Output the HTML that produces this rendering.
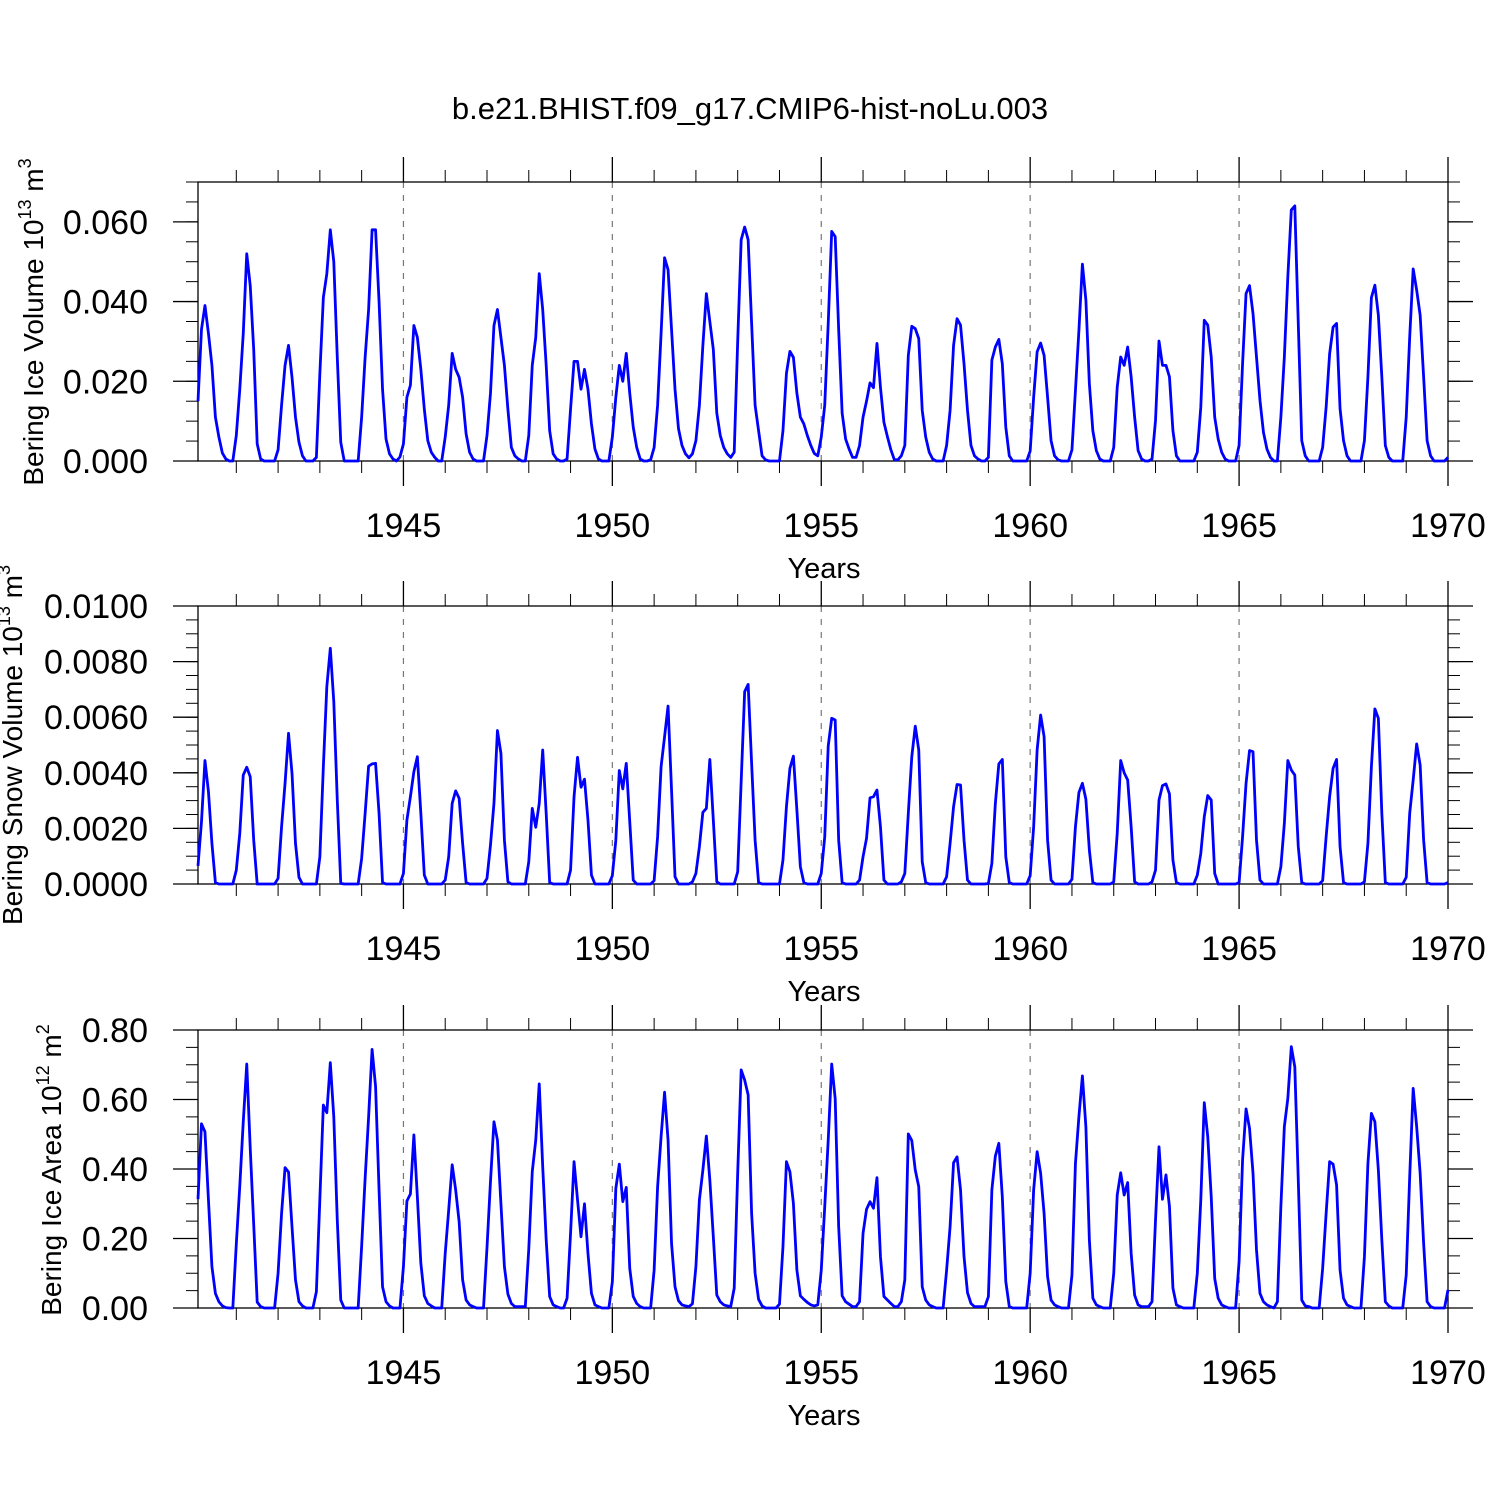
<!DOCTYPE html>
<html><head><meta charset="utf-8"><title>Bering</title>
<style>html,body{margin:0;padding:0;background:#fff;}svg{display:block;}text{font-family:"Liberation Sans",Arial,sans-serif;fill:#000;}</style>
</head><body>
<svg id="fig" width="1500" height="1500" viewBox="0 0 1500 1500" xmlns="http://www.w3.org/2000/svg">
<rect width="1500" height="1500" fill="#fff"/>
<text x="750" y="119" font-size="31" text-anchor="middle">b.e21.BHIST.f09_g17.CMIP6-hist-noLu.003</text>
</svg>
<script>
// Monthly values, Jan 1940 .. Dec 1969
const iceVolume = [
.015,.033,.039,.032,.024,.011,.006,.002,.0005,0,0,.0064,
.018,.032,.052,.044,.028,.0043,.0005,0,0,0,0,.0028,
.014,.024,.029,.021,.011,.0047,.0013,0,0,0,.0009,.022,
.041,.047,.058,.050,.026,.0047,0,0,0,0,0,.011,
.026,.038,.058,.058,.040,.018,.0055,.0018,.0005,0,.001,.0043,
.016,.019,.034,.031,.023,.013,.0051,.0022,.0009,0,0,.006,
.014,.027,.023,.021,.016,.0068,.0022,.0005,0,0,0,.0064,
.017,.034,.038,.031,.024,.013,.0034,.0013,.0005,0,0,.0064,
.024,.031,.047,.038,.024,.0076,.0018,.0005,0,0,.0005,.013,
.025,.025,.018,.023,.018,.0093,.003,.0005,0,0,0,.006,
.016,.024,.020,.027,.017,.0085,.0034,.0005,0,0,.0003,.0034,
.014,.032,.051,.048,.033,.018,.0081,.0039,.0018,.0008,.0018,.0051,
.014,.029,.042,.035,.028,.012,.0064,.0034,.0018,.0009,.0022,.030,
.0555,.0587,.0555,.0345,.014,.0076,.0013,.0003,0,0,0,0,
.0076,.022,.0275,.026,.017,.011,.0093,.0064,.0039,.0019,.0013,.006,
.014,.0345,.0576,.0563,.033,.012,.0055,.003,.0009,.0009,.0039,.011,
.015,.0196,.0184,.0295,.0185,.0097,.0061,.0028,.0003,.0003,.0013,.0039,
.0265,.0338,.0332,.0307,.0127,.006,.0022,.0005,0,0,0,.0039,
.0127,.029,.0357,.0341,.0244,.0127,.0039,.0013,.0005,0,0,.0009,
.0253,.0286,.0305,.0244,.0085,.0013,0,0,0,0,0,.0025,
.016,.0274,.0296,.0265,.016,.0051,.0013,.0003,0,0,0,.0028,
.0177,.0328,.0494,.0404,.0194,.0076,.0026,.0005,0,0,0,.0034,
.0185,.0261,.024,.0286,.0211,.011,.0026,.0005,0,0,.0005,.0102,
.0301,.024,.024,.0211,.0076,.0013,0,0,0,0,0,.0022,
.0135,.0353,.0341,.0261,.011,.0055,.0022,.0005,0,0,0,.0039,
.0244,.042,.044,.037,.0261,.0152,.0072,.003,.0009,0,0,.011,
.0261,.0462,.063,.064,.0345,.0051,.0013,0,0,0,0,.0034,
.0135,.0269,.0336,.0345,.0131,.0051,.0013,0,0,0,0,.0051,
.0211,.041,.0441,.0366,.0211,.0039,.0009,0,0,0,0,.011,
.0311,.0482,.0429,.0366,.0211,.0051,.0013,0,0,0,0,.0009];
const snowVolume = [
.00065,.00224,.00444,.00332,.00146,.00005,0,0,0,0,0,.0005,
.00182,.00392,.0042,.00386,.00158,0,0,0,0,0,0,.0002,
.00206,.00362,.00542,.00398,.00146,.00024,0,0,0,0,0,.00098,
.00422,.0071,.00848,.00656,.00302,.00002,0,0,0,0,0,.00092,
.00254,.00424,.00432,.00434,.00254,.00005,0,0,0,0,0,.00038,
.0023,.00314,.00404,.00458,.00254,.00032,0,0,0,0,0,.00014,
.00098,.0029,.00335,.00308,.00146,.00005,0,0,0,0,0,.0002,
.0014,.0029,.00552,.0047,.00158,.00008,0,0,0,0,0,.0008,
.00272,.00204,.0029,.00482,.00254,.00005,0,0,0,0,0,.0005,
.00314,.00456,.00348,.00377,.0023,.00032,0,0,0,0,0,.0003,
.00158,.00408,.00342,.00434,.00224,.00014,0,0,0,0,0,.00012,
.0017,.00422,.0053,.0064,.00338,.00026,0,0,0,0,.00008,.00038,
.00134,.00258,.00272,.00448,.0023,.00008,0,0,0,0,0,.00044,
.0037,.00692,.00718,.00434,.00158,.00005,0,0,0,0,0,0,
.00086,.00278,.00416,.0046,.00266,.00062,.00005,0,0,0,0,.00038,
.0017,.00496,.00596,.0059,.00158,.00005,0,0,0,0,.00014,.00098,
.00164,.0031,.00314,.00338,.00206,.00014,0,0,0,0,.00008,.00038,
.00254,.00458,.00568,.00482,.0008,.00005,0,0,0,0,0,.00026,
.00146,.00278,.00358,.00356,.00158,.00014,0,0,0,0,0,.00002,
.00074,.0029,.00432,.00448,.00098,.00005,0,0,0,0,0,.0003,
.00206,.00482,.00608,.0053,.00158,.00014,0,0,0,0,0,.00017,
.00206,.00329,.00362,.00305,.00122,.00005,0,0,0,0,0,.00008,
.00182,.00444,.004,.00374,.00206,.00008,0,0,0,0,.00008,.0005,
.00302,.00354,.0036,.00324,.00086,.00005,0,0,0,0,0,.00032,
.0011,.00242,.00318,.00302,.00038,0,0,0,0,0,0,.00005,
.0017,.00362,.0048,.00476,.00158,.00014,0,0,0,0,0,.00062,
.00218,.00444,.0041,.00392,.00134,.00005,0,0,0,0,0,.00012,
.0017,.00314,.00416,.00448,.00134,.00005,0,0,0,0,0,.00008,
.00146,.00422,.0063,.00596,.00254,.00005,0,0,0,0,0,.00024,
.00254,.00374,.00504,.00428,.00158,.00005,0,0,0,0,0,.00005];
const iceArea = [
.313,.53,.507,.311,.119,.042,.018,.006,.001,0,0,.184,
.351,.536,.702,.46,.24,.017,.004,0,0,0,0,.1,
.272,.404,.391,.234,.081,.018,.006,0,0,0,.047,.315,
.584,.562,.706,.55,.253,.023,0,0,0,0,0,.178,
.373,.55,.744,.637,.34,.061,.018,.006,0,0,0,.119,
.308,.328,.498,.32,.129,.035,.013,.006,0,0,0,.157,
.282,.412,.34,.248,.081,.023,.009,.004,0,0,0,.174,
.364,.536,.483,.301,.119,.04,.013,.004,.004,.004,.004,.17,
.392,.483,.645,.407,.196,.033,.009,.004,0,0,.028,.215,
.421,.311,.205,.3,.157,.042,.009,.004,0,0,0,.075,
.344,.414,.306,.347,.114,.033,.013,.004,0,0,0,.109,
.349,.493,.621,.483,.186,.061,.021,.009,.006,.004,.012,.119,
.311,.397,.495,.368,.205,.037,.018,.009,.006,.004,.057,.388,
.685,.656,.613,.272,.1,.025,.006,0,0,0,0,.011,
.176,.421,.392,.301,.109,.035,.025,.016,.009,.006,.009,.109,
.292,.483,.702,.603,.234,.035,.018,.011,.004,.004,.018,.215,
.284,.306,.287,.375,.148,.033,.023,.013,.004,.004,.018,.081,
.501,.482,.397,.349,.061,.023,.009,.004,0,0,0,.109,
.234,.418,.435,.34,.148,.044,.013,.004,.004,.004,.004,.033,
.34,.437,.474,.32,.076,.004,0,0,0,0,0,.1,
.34,.45,.388,.272,.09,.023,.009,.004,0,0,0,.095,
.416,.551,.668,.522,.196,.028,.009,.004,0,0,0,.1,
.325,.389,.325,.361,.157,.037,.009,.004,.004,.004,.018,.253,
.464,.313,.383,.292,.057,.009,.004,0,0,0,0,.1,
.311,.591,.493,.32,.085,.028,.009,.004,0,0,0,.133,
.426,.573,.517,.388,.167,.042,.018,.009,.004,0,.018,.292,
.522,.603,.752,.694,.368,.023,.006,.004,0,0,0,.114,
.272,.421,.414,.354,.109,.028,.009,.004,0,0,0,.148,
.416,.56,.536,.397,.196,.018,.006,0,0,0,0,.095,
.378,.632,.522,.388,.186,.018,.004,0,0,0,0,.052];

const xMajorYears = [1945,1950,1955,1960,1965,1970];
const xMajorLabels = ["1945","1950","1955","1960","1965","1970"];
const iceTicks = [0,0.02,0.04,0.06];
const iceTickLabels = ["0.000","0.020","0.040","0.060"];
const snowTicks = [0,0.002,0.004,0.006,0.008,0.01];
const snowTickLabels = ["0.0000","0.0020","0.0040","0.0060","0.0080","0.0100"];
const areaTicks = [0,0.2,0.4,0.6,0.8];
const areaTickLabels = ["0.00","0.20","0.40","0.60","0.80"];

const NS = "http://www.w3.org/2000/svg";
const svg = document.getElementById("fig");
const L = 198, R = 1448;
const N = 360;
function xIdx(i){ return L + i*(R-L)/(N-1); }
function xYear(y){ return L + (y-1940-1/12)*12*(R-L)/(N-1); }
function mk(tag, attrs, parent){
  const e = document.createElementNS(NS, tag);
  for (const k in attrs) e.setAttribute(k, attrs[k]);
  (parent||svg).appendChild(e);
  return e;
}

function panel(cfg){
  const g = mk("g", {});
  
  
  const T = cfg.top, B = cfg.bottom;
  const yS = v => B - (v - 0) / cfg.max * (B - T);
  xMajorYears.forEach(yr => {
    if (yr >= 1970) return;
    const gl = mk("line", {x1:xYear(yr), x2:xYear(yr), y1:T, y2:B, stroke:"#777", "stroke-width":1.2, "stroke-dasharray":"6,7"}, g);
    
    
  });
  for (let v = 0; v <= cfg.max + 1e-9; v += cfg.minor){
    const y = yS(v);
    mk("line", {x1:L-12, x2:L, y1:y, y2:y, stroke:"#000", "stroke-width":1}, g);
    mk("line", {x1:R, x2:R+12, y1:y, y2:y, stroke:"#000", "stroke-width":1}, g);
  }
  cfg.ticks.forEach((v, k) => {
    const y = yS(v);
    mk("line", {x1:L-25, x2:L, y1:y, y2:y, stroke:"#000", "stroke-width":1.3}, g);
    mk("line", {x1:R, x2:R+25, y1:y, y2:y, stroke:"#000", "stroke-width":1.3}, g);
    const t = mk("text", {x:148, y:y+12, "font-size":34, "text-anchor":"end"}, g);
    t.textContent = cfg.labels[k];
    
    
  });
  for (let yr = 1941; yr < 1970; yr++){
    if (yr % 5 === 0) continue;
    const x = xYear(yr);
    mk("line", {x1:x, x2:x, y1:T-12, y2:T, stroke:"#000", "stroke-width":1}, g);
    mk("line", {x1:x, x2:x, y1:B, y2:B+12, stroke:"#000", "stroke-width":1}, g);
  }
  xMajorYears.forEach((yr, k) => {
    const x = xYear(yr);
    mk("line", {x1:x, x2:x, y1:T-25, y2:T, stroke:"#000", "stroke-width":1.3}, g);
    mk("line", {x1:x, x2:x, y1:B, y2:B+25, stroke:"#000", "stroke-width":1.3}, g);
    const t = mk("text", {x:x, y:B+76, "font-size":34, "text-anchor":"middle"}, g);
    t.textContent = xMajorLabels[k];
    
    
  });
  const xt = mk("text", {x:824, y:B+117, "font-size":29, "text-anchor":"middle"}, g);
  xt.textContent = "Years";
  
  
  const yt = mk("text", {transform:"translate("+cfg.titleX+","+cfg.titleY+") rotate(-90)", "font-size":28, "text-anchor":"middle"}, g);
  yt.innerHTML = cfg.title;
  
  
  const fr = mk("rect", {x:L, y:T, width:R-L, height:B-T, fill:"none", stroke:"#000", "stroke-width":1.3}, g);
  
  
  const pts = cfg.data.map((v,i) => xIdx(i).toFixed(2) + "," + yS(v).toFixed(2)).join(" ");
  const pl = mk("polyline", {points:pts, fill:"none", stroke:"#0000ff", "stroke-width":2.8, "stroke-linejoin":"round"}, g);
  
  
}

panel({name:"ice-volume-panel", top:182, bottom:461, max:0.07, minor:0.005, ticks:iceTicks, labels:iceTickLabels, data:iceVolume,
  titleX:43, titleY:322, title:'Bering Ice Volume 10<tspan dy="-12" font-size="18">13</tspan><tspan dy="12"> m</tspan><tspan dy="-12" font-size="18">3</tspan>'});
panel({name:"snow-volume-panel", top:606, bottom:884, max:0.01, minor:0.0005, ticks:snowTicks, labels:snowTickLabels, data:snowVolume,
  titleX:22, titleY:745, title:'Bering Snow Volume 10<tspan dy="-12" font-size="18">13</tspan><tspan dy="12"> m</tspan><tspan dy="-12" font-size="18">3</tspan>'});
panel({name:"ice-area-panel", top:1030, bottom:1308, max:0.8, minor:0.05, ticks:areaTicks, labels:areaTickLabels, data:iceArea,
  titleX:61, titleY:1170, title:'Bering Ice Area 10<tspan dy="-12" font-size="18">12</tspan><tspan dy="12"> m</tspan><tspan dy="-12" font-size="18">2</tspan>'});
</script>
</body></html>
